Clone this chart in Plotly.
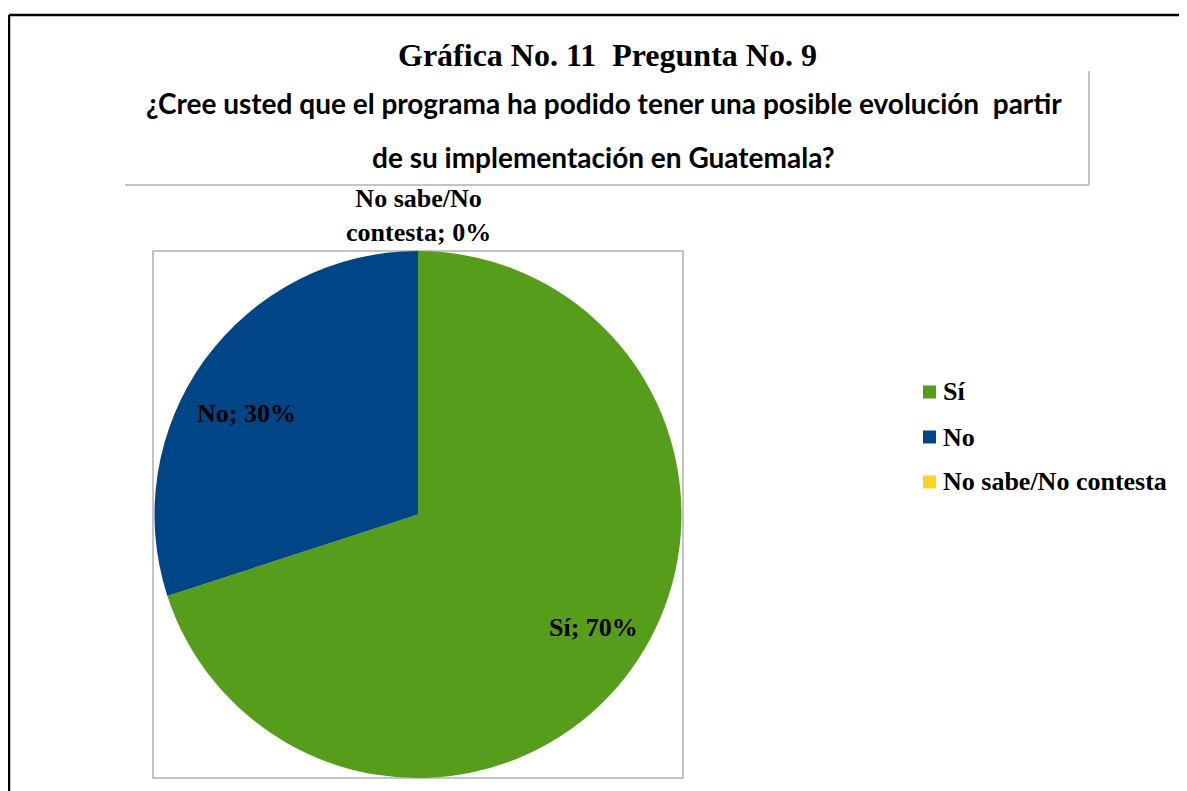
import plotly.graph_objects as go

# Chart data
labels = ["Sí", "No", "No sabe/No contesta"]
values = [70, 30, 0]
slice_labels = ["Sí; 70%", "No; 30%", "No sabe/No<br>contesta; 0%"]
colors = ["#579D1C", "#004586", "#FFD320"]

title = "Gráfica No. 11&nbsp; Pregunta No. 9"
question = ["¿Cree usted que el programa ha podido tener una posible evolución&nbsp; partir",
            "de su implementación en Guatemala?"]

W, H = 1187, 791
OFF = 8  # the page body adds an 8px margin
serif = "Liberation Serif, Times New Roman, serif"


# screen pixel -> paper coordinates
def px(x):
    return (x - OFF) / W


def py(y):
    return 1 - (y - OFF) / H


fig = go.Figure()

# pie area box in screen pixels
box = (153, 251, 683, 778)

fig.add_trace(go.Pie(
    labels=labels, values=values,
    marker=dict(colors=colors, line=dict(width=0)),
    sort=False, direction="clockwise", rotation=0,
    textinfo="none", hoverinfo="label+percent",
    showlegend=False,
    domain=dict(x=[px(box[0]), px(box[2])], y=[py(box[3]), py(box[1])]),
))

# data label positions (screen pixels), as Excel placed them
label_pos = [(593, 627), (246, 413), (418, 216)]
for lab, (lx, ly) in zip(slice_labels, label_pos):
    fig.add_annotation(x=px(lx), y=py(ly), xref="paper", yref="paper",
                       text="<b>" + lab + "</b>", showarrow=False,
                       xanchor="center", yanchor="middle",
                       font=dict(family=serif, size=26, color="black"))

# legend, drawn by hand for Excel-like spacing
for i, (lab, col) in enumerate(zip(labels, colors)):
    yc = 392 + i * 45
    fig.add_shape(type="rect", xref="paper", yref="paper",
                  x0=px(923), x1=px(936), y0=py(yc + 6.5), y1=py(yc - 6.5),
                  fillcolor=col, line=dict(width=0))
    fig.add_annotation(x=px(941), y=py(yc), xref="paper", yref="paper",
                       text="<b>" + lab + "</b>", showarrow=False,
                       xanchor="left", yanchor="middle",
                       font=dict(family=serif, size=26, color="black"))

# title and question
fig.add_annotation(x=px(608), y=py(55), xref="paper", yref="paper",
                   text="<b>" + title + "</b>", showarrow=False,
                   xanchor="center", yanchor="middle",
                   font=dict(family=serif, size=32, color="black"))
for i, line in enumerate(question):
    fig.add_annotation(x=px(604), y=py(103 + i * 54), xref="paper", yref="paper",
                       text="<b>" + line + "</b>", showarrow=False,
                       xanchor="center", yanchor="middle",
                       font=dict(family="Lato, Carlito, sans-serif", size=28, color="black"))

# frames
grey = "#C4C4C4"
fig.add_shape(type="rect", xref="paper", yref="paper", layer="below",
              x0=px(box[0]), x1=px(box[2]), y0=py(box[3]), y1=py(box[1]),
              line=dict(color=grey, width=2))
fig.add_shape(type="line", xref="paper", yref="paper",
              x0=px(125), x1=px(1089), y0=py(185), y1=py(185), line=dict(color=grey, width=2))
fig.add_shape(type="line", xref="paper", yref="paper",
              x0=px(1089), x1=px(1089), y0=py(71), y1=py(185), line=dict(color=grey, width=2))
fig.add_shape(type="line", xref="paper", yref="paper",
              x0=px(9), x1=1, y0=py(15), y1=py(15), line=dict(color="black", width=2.5))
fig.add_shape(type="line", xref="paper", yref="paper",
              x0=px(9), x1=px(9), y0=py(15), y1=0, line=dict(color="black", width=2.5))

fig.update_layout(width=W, height=H, margin=dict(l=0, r=0, t=0, b=0),
                  paper_bgcolor="white", plot_bgcolor="white")

fig.write_html("out.html")
